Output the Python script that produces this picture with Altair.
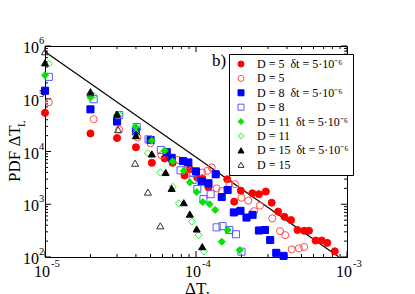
import altair as alt
import pandas as pd

# ---------------- data ----------------
SERIES = [
    "D = 5\u00a0\u00a0δt = 5·10⁻⁶", "D = 5",
    "D = 8\u00a0\u00a0δt = 5·10⁻⁶", "D = 8",
    "D = 11\u00a0\u00a0δt = 5·10⁻⁶", "D = 11",
    "D = 15\u00a0\u00a0δt = 5·10⁻⁶", "D = 15",
]
SHAPES = ["circle", "circle", "square", "square", "diamond", "diamond", "triangle-up", "triangle-up"]
STROKES = ["#ff0000", "#ff4d4d", "#0000ff", "#5a5aff", "#00e600", "#33ee33", "#000000", "#333333"]
FILLS = ["#ff0000", "transparent", "#0000ff", "transparent", "#00e600", "transparent", "#000000", "transparent"]

d5f_x = [1.0e-5, 2.0e-5, 3.0e-5, 4.0e-5, 5.1e-5, 6.2e-5, 7.0e-5, 8.4e-5, 9.1e-5, 1.02e-4, 1.1e-4, 1.21e-4,
         1.61e-4, 1.79e-4, 1.98e-4, 2.36e-4, 2.61e-4, 2.9e-4, 3.17e-4, 3.5e-4, 3.85e-4, 4.26e-4, 4.7e-4,
         5.2e-4, 5.6e-4, 6.2e-4, 6.8e-4, 7.4e-4, 8.3e-4]
d5f_y = [5.4e4, 2.2e4, 1.8e4, 1.2e4, 6.1e3, 7.4e3, 6.1e3, 3.5e3, 4.6e3, 3.2e3, 3.1e3, 2.1e3,
         2.97e3, 1.12e3, 1.81e3, 1.61e3, 1.55e3, 1.74e3, 1.07e3, 725, 580, 500, 325,
         315, 315, 205, 205, 185, 128]

d5o_x = [1.06e-5, 2.1e-5, 3.1e-5, 4.1e-5, 5.0e-5, 5.9e-5, 7.6e-5, 8.8e-5, 9.5e-5, 1.1e-4, 1.19e-4, 1.27e-4,
         1.37e-4, 1.48e-4, 1.66e-4, 1.81e-4, 2.0e-4, 2.22e-4, 2.43e-4, 2.65e-4, 3.2e-4, 3.6e-4, 3.9e-4,
         4.3e-4, 4.8e-4, 5.2e-4]
d5o_y = [8.6e4, 4.1e4, 2.6e4, 1.85e4, 1.43e4, 8.5e3, 6.9e3, 5.5e3, 3.9e3, 4.0e3, 4.3e3, 5.0e3,
         2.0e3, 1.78e3, 2.5e3, 2.4e3, 1.33e3, 1.17e3, 740, 940, 540, 310, 260,
         140, 146, 155]

d8f_x = [1.0e-5, 2.0e-5, 3.0e-5, 4.0e-5, 5.0e-5, 6.4e-5, 6.9e-5, 8.2e-5, 8.9e-5, 1.0e-4, 1.09e-4, 1.21e-4,
         1.35e-4, 1.48e-4, 1.62e-4, 1.78e-4, 1.97e-4, 2.16e-4, 2.37e-4, 2.61e-4, 2.86e-4, 3.1e-4, 3.4e-4, 3.8e-4]
d8f_y = [1.42e5, 6.3e4, 3.7e4, 2.4e4, 1.65e4, 9.7e3, 7.6e3, 6.6e3, 6.2e3, 4.2e3, 2.7e3, 2.5e3,
         3.7e3, 1.37e3, 1.86e3, 700, 750, 560, 630, 318, 325, 210, 120, 105]

d8o_x = [1.06e-5, 2.1e-5, 3.1e-5, 4.05e-5, 4.85e-5, 5.85e-5, 7.9e-5, 9.5e-5, 1.02e-4, 1.12e-4, 1.25e-4,
         1.37e-4, 1.5e-4, 1.66e-4, 1.84e-4, 2.0e-4]
d8o_y = [2.6e5, 9.8e4, 4.9e4, 2.9e4, 1.7e4, 1.07e4, 4.4e3, 2.9e3, 1.95e3, 1.25e3, 1.55e3,
         365, 385, 325, 270, 126]

d11f_x = [1.0e-5, 2.0e-5, 3.0e-5, 4.0e-5, 5.1e-5, 6.2e-5, 7.0e-5, 8.3e-5, 9.1e-5, 1.01e-4, 1.11e-4, 1.23e-4,
          1.34e-4, 1.48e-4, 1.62e-4, 1.95e-4]
d11f_y = [2.8e5, 1.06e5, 4.9e4, 2.9e4, 1.6e4, 1.04e4, 6.5e3, 4.3e3, 2.6e3, 1.7e3, 1.1e3, 1.0e3,
          780, 195, 325, 135]

d11o_x = [1.06e-5, 2.1e-5, 3.1e-5, 4.0e-5, 4.8e-5, 5.8e-5, 7.0e-5, 7.7e-5, 9.4e-5, 1.04e-4, 1.13e-4]
d11o_y = [4.6e5, 1.15e5, 5.0e4, 2.2e4, 9.3e3, 4.0e3, 2.15e3, 1.04e3, 470, 260, 128]

d15f_x = [1.0e-5, 2.0e-5, 3.0e-5, 4.0e-5, 5.1e-5, 6.3e-5, 6.9e-5, 8.3e-5, 9.1e-5, 1.01e-4, 1.1e-4]
d15f_y = [4.8e5, 1.36e5, 5.1e4, 2.0e4, 9.0e3, 4.0e3, 2.0e3, 1.07e3, 650, 340, 157]

d15o_x = [1.0e-5, 2.0e-5, 3.05e-5, 3.95e-5, 4.8e-5, 5.8e-5]
d15o_y = [7.8e5, 1.3e5, 2.6e4, 6.0e3, 1.7e3, 390]

fit_x = [1.0e-5, 8.8e-4]
fit_y = [7.8e5, 101]

X_MAJOR = [1e-5, 1e-4, 1e-3]
X_EXP = ["-5", "-4", "-3"]
X_MINOR = [2e-5, 3e-5, 4e-5, 5e-5, 6e-5, 7e-5, 8e-5, 9e-5,
           2e-4, 3e-4, 4e-4, 5e-4, 6e-4, 7e-4, 8e-4, 9e-4]
Y_MAJOR = [1e2, 1e3, 1e4, 1e5, 1e6]
Y_EXP = ["2", "3", "4", "5", "6"]
Y_MINOR = [m * 10 ** e for e in (2, 3, 4, 5) for m in (2, 3, 4, 5, 6, 7, 8, 9)]

# ---------------- build ----------------
W, H = 302, 211
SERIF = "Liberation Serif"

xs = alt.Scale(type="log", domain=[1e-5, 1e-3], nice=False)
ys = alt.Scale(type="log", domain=[1e2, 1e6], nice=False)

all_x = [d5f_x, d5o_x, d8f_x, d8o_x, d11f_x, d11o_x, d15f_x, d15o_x]
all_y = [d5f_y, d5o_y, d8f_y, d8o_y, d11f_y, d11o_y, d15f_y, d15o_y]
rows = []
for name, xv, yv in zip(SERIES, all_x, all_y):
    for a, b in zip(xv, yv):
        rows.append({"series": name, "x": a, "y": b})
pts_df = pd.DataFrame(rows)

leg = alt.Legend(title=None, orient="none", legendX=184, legendY=8)

points = alt.Chart(pts_df).mark_point(opacity=1, strokeWidth=1, size=50).encode(
    x=alt.X("x:Q", scale=xs, axis=None),
    y=alt.Y("y:Q", scale=ys, axis=None),
    shape=alt.Shape("series:N", scale=alt.Scale(domain=SERIES, range=SHAPES), legend=leg),
    stroke=alt.Stroke("series:N", scale=alt.Scale(domain=SERIES, range=STROKES), legend=leg),
    fill=alt.Fill("series:N", scale=alt.Scale(domain=SERIES, range=FILLS), legend=leg),
)

fit = alt.Chart(pd.DataFrame({"x": fit_x, "y": fit_y})).mark_line(color="black", strokeWidth=1.2).encode(
    x=alt.X("x:Q", scale=xs, axis=None), y=alt.Y("y:Q", scale=ys, axis=None))


def xticks(vals, y0, y1):
    return alt.Chart(pd.DataFrame({"x": vals})).mark_rule(color="black", strokeWidth=1).encode(
        x=alt.X("x:Q", scale=xs, axis=None), y=alt.value(y0), y2=alt.value(y1))


def yticks(vals, x0, x1):
    return alt.Chart(pd.DataFrame({"y": vals})).mark_rule(color="black", strokeWidth=1).encode(
        y=alt.Y("y:Q", scale=ys, axis=None), x=alt.value(x0), x2=alt.value(x1))


ticks = [
    xticks(X_MAJOR, H, H - 6), xticks(X_MINOR, H, H - 3),
    xticks(X_MAJOR, 0, 6), xticks(X_MINOR, 0, 3),
    yticks(Y_MAJOR, 0, 6), yticks(Y_MINOR, 0, 3),
    yticks(Y_MAJOR, W, W - 6), yticks(Y_MINOR, W, W - 3),
]

xlab_df = pd.DataFrame({"x": X_MAJOR, "e": X_EXP, "b": ["10"] * 3})
ylab_df = pd.DataFrame({"y": Y_MAJOR, "e": Y_EXP, "b": ["10"] * 5})

xlab = alt.Chart(xlab_df).mark_text(font=SERIF, fontSize=16, align="center", baseline="alphabetic", dx=-3).encode(
    x=alt.X("x:Q", scale=xs, axis=None), y=alt.value(H + 20), text="b:N")
xexp = alt.Chart(xlab_df).mark_text(font=SERIF, fontSize=10.5, align="left", baseline="alphabetic", dx=6).encode(
    x=alt.X("x:Q", scale=xs, axis=None), y=alt.value(H + 10), text="e:N")
ylab = alt.Chart(ylab_df).mark_text(font=SERIF, fontSize=16, align="right", baseline="alphabetic", dy=7).encode(
    y=alt.Y("y:Q", scale=ys, axis=None), x=alt.value(-6), text="b:N")
yexp = alt.Chart(ylab_df).mark_text(font=SERIF, fontSize=10.5, align="left", baseline="alphabetic", dy=-2).encode(
    y=alt.Y("y:Q", scale=ys, axis=None), x=alt.value(-6), text="e:N")

ytitle = alt.Chart(pd.DataFrame({"t": ["PDF ΔT"]})).mark_text(
    font=SERIF, fontSize=17, angle=270, align="left", baseline="alphabetic").encode(
    x=alt.value(-25), y=alt.value(136), text="t:N")
ytitle_sub = alt.Chart(pd.DataFrame({"t": ["L"]})).mark_text(
    font=SERIF, fontSize=11, angle=270, align="left", baseline="alphabetic").encode(
    x=alt.value(-20), y=alt.value(81), text="t:N")
xtitle = alt.Chart(pd.DataFrame({"t": ["ΔT"]})).mark_text(
    font=SERIF, fontSize=17, align="left", baseline="alphabetic").encode(
    x=alt.value(140), y=alt.value(248), text="t:N")
xtitle_sub = alt.Chart(pd.DataFrame({"t": ["L"]})).mark_text(
    font=SERIF, fontSize=11, align="left", baseline="alphabetic").encode(
    x=alt.value(161), y=alt.value(253), text="t:N")
panel = alt.Chart(pd.DataFrame({"t": ["b)"]})).mark_text(
    font=SERIF, fontSize=17, align="left", baseline="alphabetic").encode(
    x=alt.value(167), y=alt.value(19.5), text="t:N")

chart = alt.layer(
    *ticks, fit, points, xlab, xexp, ylab, yexp, ytitle, ytitle_sub, xtitle, xtitle_sub, panel
).properties(
    width=W, height=H,
    padding={"left": 37, "top": 38, "right": 60, "bottom": 40},
    autosize=alt.AutoSizeParams(type="none"),
    background="white",
).configure_view(
    stroke="black", strokeWidth=1
).configure_legend(
    fillColor="white", strokeColor="black", padding=4,
    labelFont=SERIF, labelFontSize=12, labelColor="black",
    symbolSize=36, symbolStrokeWidth=1, symbolOffset=2,
    labelOffset=10, rowPadding=2.4, labelLimit=0,
)

chart.save("out.html", embed_options={"renderer": "svg", "actions": False})
